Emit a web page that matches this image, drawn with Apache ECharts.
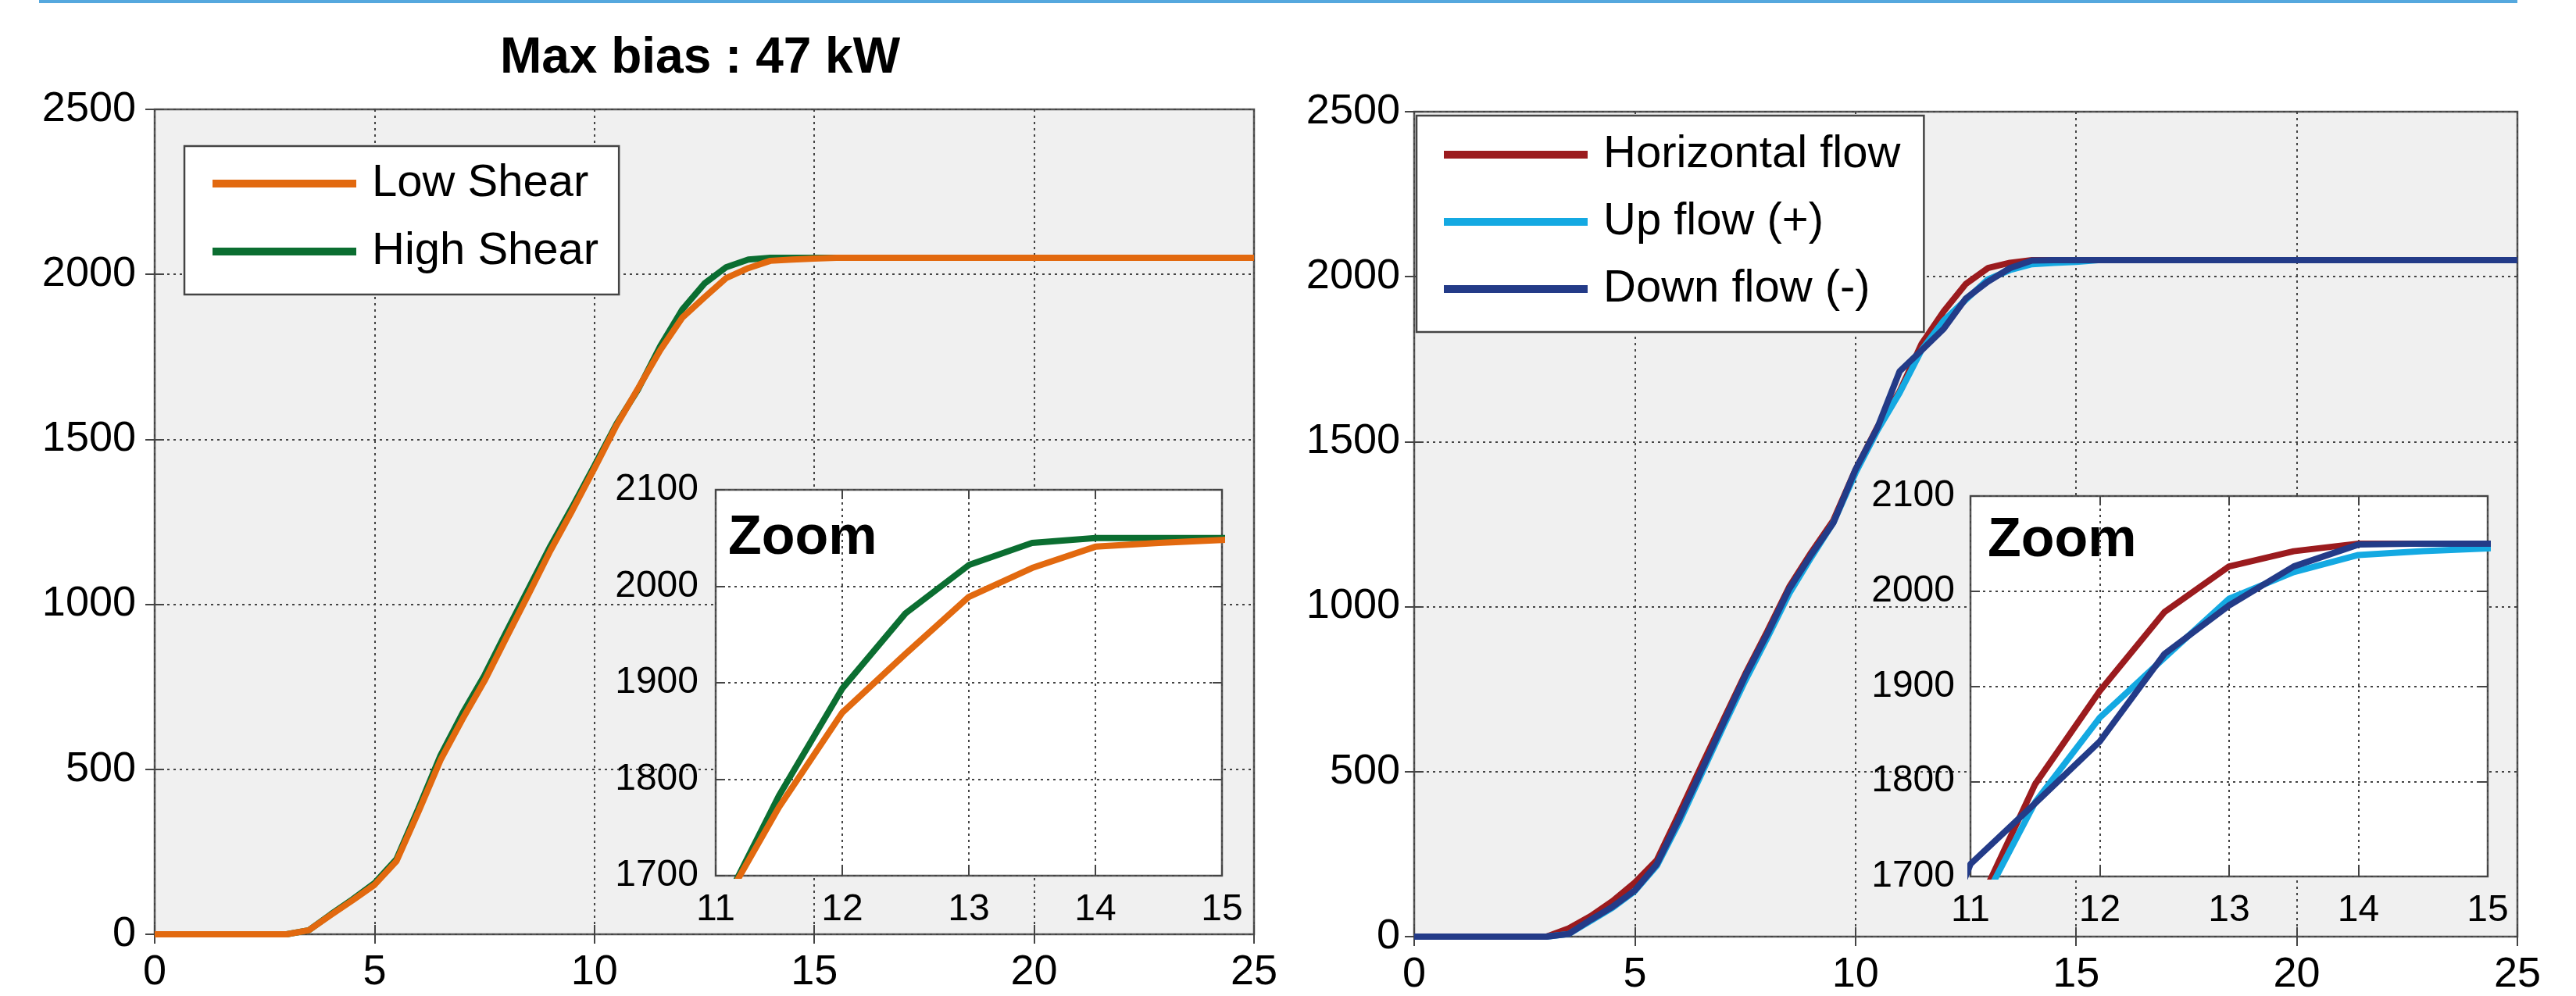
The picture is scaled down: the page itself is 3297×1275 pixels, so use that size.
<!DOCTYPE html>
<html>
<head>
<meta charset="utf-8">
<script src="https://cdn.jsdelivr.net/npm/echarts@6/dist/echarts.min.js"></script>
<style>
  html, body { margin: 0; padding: 0; background: #ffffff; }
  #chart { width: 3297px; height: 1275px; }
</style>
</head>
<body>
<div id="chart"></div>
<script>
// Wind speed bins (m/s) and power (kW) for each inflow case
const windSpeed = [0, 3, 3.5, 4, 4.5, 5, 5.5, 6, 6.5, 7, 7.5, 8, 8.5, 9, 9.5, 10, 10.5, 11, 11.5, 12, 12.5, 13, 13.5, 14, 14.5, 15, 15.5, 25];

const lowShear  = [0, 0, 12, 58, 103, 150, 222, 372, 528, 652, 768, 900, 1030, 1163, 1285, 1412, 1542, 1656, 1771, 1869, 1930, 1989, 2019, 2041, 2045, 2048, 2050, 2050];
const highShear = [0, 0, 12, 60, 106, 155, 228, 382, 542, 670, 785, 917, 1047, 1177, 1296, 1420, 1546, 1653, 1783, 1894, 1972, 2022, 2045, 2050, 2050, 2050, 2050, 2050];

const horizontalFlow = [0, 0, 25, 62, 108, 164, 232, 372, 515, 655, 795, 925, 1060, 1165, 1262, 1415, 1545, 1652, 1797, 1895, 1978, 2026, 2042, 2050, 2050, 2050, 2050, 2050];
const upFlow         = [0, 0, 8, 48, 88, 138, 215, 345, 490, 635, 775, 905, 1040, 1150, 1255, 1405, 1535, 1648, 1778, 1867, 1930, 1992, 2020, 2038, 2042, 2045, 2050, 2050];
const downFlow       = [0, 0, 8, 51, 91, 140, 220, 356, 500, 645, 789, 917, 1054, 1158, 1254, 1415, 1543, 1713, 1777, 1842, 1934, 1985, 2026, 2049, 2050, 2050, 2050, 2050];

const shearNames = ['Low Shear', 'High Shear'];
const flowNames = ['Horizontal flow', 'Up flow (+)', 'Down flow (-)'];
const titleText = 'Max bias : 47 kW';
const zoomText = 'Zoom';

const FONT = '"Liberation Sans", Arial, Helvetica, sans-serif';
const colors = {
  low: '#e2690f', high: '#0b6e31',
  horiz: '#9b1b1e', up: '#14a9e2', down: '#233b88'
};

const pairs = ys => windSpeed.map((x, i) => [x, ys[i]]);

const chart = echarts.init(document.getElementById('chart'), null, { renderer: 'canvas' });

// Panel boxes (px)
const panels = [
  { left: 198, top: 140, width: 1407, height: 1056, inset: false, labelMargin: 24 },
  { left: 916, top: 627, width: 648, height: 494, inset: true, labelMargin: 22 },
  { left: 1810, top: 143, width: 1412, height: 1056, inset: false, labelMargin: 18 },
  { left: 2522, top: 635, width: 662, height: 487, inset: true, labelMargin: 20 }
];

const grids = panels.map(p => ({
  left: p.left, top: p.top, width: p.width, height: p.height,
  show: true,
  backgroundColor: p.inset ? '#ffffff' : '#f0f0f0',
  borderColor: '#555555', borderWidth: 2.5,
  containLabel: false,
  zlevel: p.inset ? 1 : 0
}));

const gridLine = { show: true, lineStyle: { color: '#444444', width: 2, type: [3, 5] } };
const tick = { show: true, inside: true, length: 12, lineStyle: { color: '#444444', width: 2 } };
const plain = v => String(v);

const xAxes = [];
const yAxes = [];
panels.forEach((p, gi) => {
  const xr = p.inset ? { min: 11, max: 15, interval: 1 } : { min: 0, max: 25, interval: 5 };
  const yr = p.inset ? { min: 1700, max: 2100, interval: 100 } : { min: 0, max: 2500, interval: 500 };
  const fs = p.inset ? 48 : 54;
  const z = p.inset ? 1 : 0;
  xAxes.push({
    type: 'value', gridIndex: gi, position: 'bottom', ...xr, zlevel: z,
    axisLine: { show: false }, axisTick: tick, splitLine: gridLine,
    axisLabel: { color: '#000', fontSize: fs, fontFamily: FONT, margin: p.inset ? 20 : 22, formatter: plain }
  });
  xAxes.push({
    type: 'value', gridIndex: gi, position: 'top', ...xr, zlevel: z,
    axisLine: { show: false }, axisTick: tick, splitLine: { show: false },
    axisLabel: { show: false }
  });
  yAxes.push({
    type: 'value', gridIndex: gi, position: 'left', ...yr, zlevel: z,
    axisLine: { show: false }, axisTick: tick, splitLine: gridLine,
    axisLabel: { color: '#000', fontSize: fs, fontFamily: FONT, margin: p.labelMargin, formatter: plain }
  });
  yAxes.push({
    type: 'value', gridIndex: gi, position: 'right', ...yr, zlevel: z,
    axisLine: { show: false }, axisTick: tick, splitLine: { show: false },
    axisLabel: { show: false }
  });
});

function line(name, data, color, gi) {
  const inset = panels[gi].inset;
  return {
    type: 'line', name, data: pairs(data),
    xAxisIndex: gi * 2, yAxisIndex: gi * 2,
    showSymbol: false, symbol: 'none', clip: true,
    lineStyle: { color, width: 8 }, itemStyle: { color },
    zlevel: inset ? 1 : 0, z: 3,
    animation: false
  };
}

const series = [];
[0, 1].forEach(gi => {
  series.push(line(shearNames[1], highShear, colors.high, gi));
  series.push(line(shearNames[0], lowShear, colors.low, gi));
});
[2, 3].forEach(gi => {
  series.push(line(flowNames[0], horizontalFlow, colors.horiz, gi));
  series.push(line(flowNames[1], upFlow, colors.up, gi));
  series.push(line(flowNames[2], downFlow, colors.down, gi));
});

const legendBase = {
  orient: 'vertical',
  icon: 'rect',
  itemWidth: 184, itemHeight: 10,
  backgroundColor: '#ffffff',
  borderColor: '#444444', borderWidth: 2.5, borderRadius: 0,
  selectedMode: false,
  textStyle: { color: '#000', fontSize: 58, fontFamily: FONT, lineHeight: 60, padding: [0, 0, 0, 15] }
};

const option = {
  backgroundColor: '#ffffff',
  animation: false,
  grid: grids,
  xAxis: xAxes,
  yAxis: yAxes,
  series,
  legend: [
    Object.assign({}, legendBase, {
      data: shearNames, left: 236, top: 187, itemGap: 27,
      padding: [18, 26, 25, 36]
    }),
    Object.assign({}, legendBase, {
      data: flowNames, left: 1813, top: 148, itemGap: 26,
      padding: [20, 30, 25, 35]
    })
  ],
  graphic: [
    {
      type: 'rect', shape: { x: 50, y: 0, width: 3172, height: 4 },
      style: { fill: '#55a8de' }, silent: true
    },
    {
      type: 'text', x: 896, y: 75,
      style: { text: titleText, font: 'bold 64px ' + FONT, fill: '#000', textAlign: 'center', textVerticalAlign: 'middle' }
    },
    {
      type: 'text', x: 932, y: 690, zlevel: 1, z: 10,
      style: { text: zoomText, font: 'bold 70px ' + FONT, fill: '#000', textAlign: 'left', textVerticalAlign: 'middle' }
    },
    {
      type: 'text', x: 2544, y: 693, zlevel: 1, z: 10,
      style: { text: zoomText, font: 'bold 70px ' + FONT, fill: '#000', textAlign: 'left', textVerticalAlign: 'middle' }
    }
  ]
};

chart.setOption(option);
</script>
</body>
</html>
